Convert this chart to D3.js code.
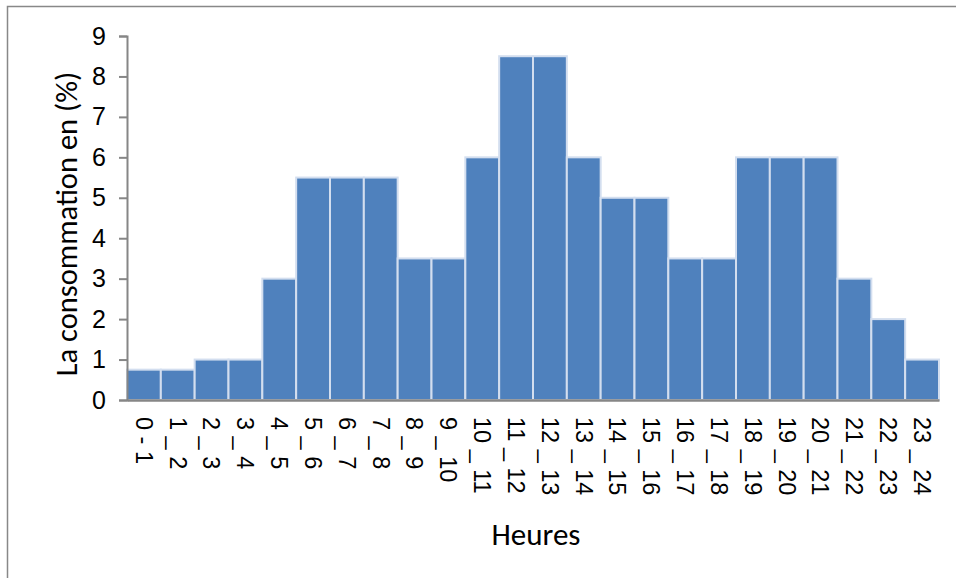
<!DOCTYPE html>
<html>
<head>
<meta charset="utf-8">
<script src="https://cdn.jsdelivr.net/npm/d3@7"></script>
<style>
  html, body { margin: 0; padding: 0; background: #fff; }
  svg { display: block; font-family: Carlito, Calibri, Lato, "Open Sans", sans-serif; }
</style>
</head>
<body>
<svg id="chart" width="956" height="578"></svg>
<script>
// Hourly consumption share (%)
const categories = ["0 - 1", "1 _ 2", "2 _ 3", "3 _ 4", "4 _ 5", "5 _ 6", "6 _ 7", "7 _ 8",
  "8 _ 9", "9 _ 10", "10 _ 11", "11 _ 12", "12 _ 13", "13 _ 14", "14 _ 15", "15 _ 16",
  "16 _ 17", "17 _ 18", "18 _ 19", "19 _ 20", "20 _ 21", "21 _ 22", "22 _ 23", "23 _ 24"];
const values = [0.75, 0.75, 1, 1, 3, 5.5, 5.5, 5.5, 3.5, 3.5, 6, 8.5, 8.5, 6, 5, 5, 3.5, 3.5, 6, 6, 6, 3, 2, 1];
const yTicks = [0, 1, 2, 3, 4, 5, 6, 7, 8, 9];
const yTitle = "La consommation en (%)";
const xTitle = "Heures";

const svg = d3.select("#chart");

// outer frame (only top and left edges fall inside the page)
svg.append("rect")
  .attr("x", 7.5).attr("y", 6.5)
  .attr("width", 1000).attr("height", 1000)
  .attr("fill", "none").attr("stroke", "#888").attr("stroke-width", 1.5);

const plot = { left: 127, right: 939, top: 36, bottom: 400 };

const x = d3.scaleBand().domain(categories).range([plot.left, plot.right]).padding(0);
const y = d3.scaleLinear().domain([0, 9]).range([plot.bottom, plot.top]);

// bars
svg.append("g").selectAll("rect")
  .data(values)
  .join("rect")
  .attr("x", (d, i) => x(categories[i]))
  .attr("y", d => y(d))
  .attr("width", x.bandwidth())
  .attr("height", d => y(0) - y(d))
  .attr("fill", "#4F81BD")
  .attr("stroke", "#D3DEEF")
  .attr("stroke-width", 2);

// y axis
const yAxis = svg.append("g")
  .attr("transform", `translate(${plot.left},0)`)
  .call(d3.axisLeft(y).tickValues(yTicks).tickFormat(d3.format("d")).tickSize(8).tickPadding(13));
yAxis.select(".domain").attr("stroke", "#868686").attr("stroke-width", 2);
yAxis.selectAll(".tick line").attr("stroke", "#868686").attr("stroke-width", 2);
yAxis.selectAll(".tick text").attr("font-size", 25).attr("fill", "#000")
  .style("font-family", "inherit");

// x axis baseline
const xAxis = svg.append("g")
  .attr("transform", `translate(0,${plot.bottom})`)
  .call(d3.axisBottom(x).tickSize(0).tickPadding(0));
xAxis.select(".domain").attr("stroke", "#868686").attr("stroke-width", 2.5);
xAxis.selectAll(".tick text")
  .attr("font-size", 23.5).attr("fill", "#000")
  .style("font-family", "inherit")
  .attr("text-anchor", "start")
  .attr("dy", "0.35em")
  .attr("transform", "translate(0,17) rotate(90)");

// axis titles
svg.append("text")
  .attr("transform", `translate(77,${(plot.top + plot.bottom) / 2 + 6}) rotate(-90)`)
  .attr("text-anchor", "middle")
  .attr("font-size", 30.5)
  .attr("fill", "#000")
  .text(yTitle);

svg.append("text")
  .attr("x", 536).attr("y", 545)
  .attr("text-anchor", "middle")
  .attr("font-size", 31)
  .attr("fill", "#000")
  .text(xTitle);
</script>
</body>
</html>
